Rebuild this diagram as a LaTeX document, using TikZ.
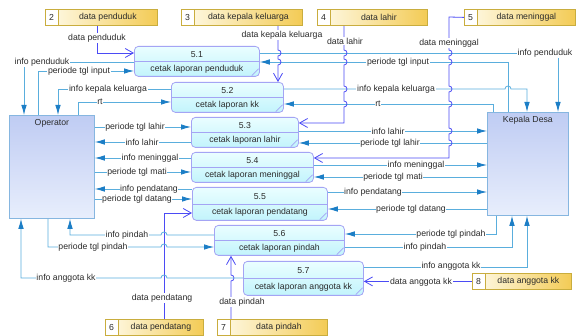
\documentclass[tikz,border=0pt]{standalone}
\usepackage{fontspec}
\setmainfont{Liberation Sans}
\usetikzlibrary{arrows.meta,calc}
\definecolor{flowc}{HTML}{5AAEDD}
\definecolor{arrc}{HTML}{1C7EC6}
\definecolor{dflowc}{HTML}{4B4BF5}
\definecolor{procb}{HTML}{A4A4F4}
\definecolor{procA}{HTML}{EAFEFF}
\definecolor{procB}{HTML}{C2F4FC}
\definecolor{storeb}{HTML}{C9AD3E}
\definecolor{storeA}{HTML}{FFFBEA}
\definecolor{storeB}{HTML}{F3CB55}
\definecolor{entb}{HTML}{86B6E0}
\definecolor{entA}{HTML}{BFCCF3}
\definecolor{entB}{HTML}{E8EEFC}
\definecolor{txtc}{HTML}{2B2B2B}
\newcommand\dproc[7]{%
  \node[procbox, anchor=north west, minimum width=#4pt, minimum height=#5pt] (#1) at (#2,#3) {};
  \draw[procdiv] (#1.west) -- (#1.east);
  \draw[procdiv] ([xshift=-8pt,yshift=1.2pt]#1.south east) -- ([xshift=-1.2pt,yshift=8pt]#1.south east);
  \node[inner sep=0pt] (#1n) at ($(#1.north)!0.27!(#1.south)$) {#6};
  \node[inner sep=0pt] (#1t) at ($(#1.north)!0.76!(#1.south)$) {#7};
}
\newcommand\dstore[6]{%
  \node[storebox, anchor=north west, minimum width=#4pt, minimum height=16pt] (#1) at (#2,#3) {};
  \draw[draw=storeb, line width=0.7pt, fill=white] (#1.north west) rectangle ([xshift=13pt]#1.south west);
  \node[inner sep=0pt] (#1n) at ([xshift=6.5pt]#1.west) {#5};
  \node[inner sep=0pt] (#1t) at ($([xshift=13pt]#1.west)!0.5!(#1.east)$) {#6};
}
\begin{document}
\begin{tikzpicture}[x=1pt,y=-1pt, font=\fontsize{8.7}{10}\selectfont, text=txtc,
  flow/.style={draw=flowc, line width=0.8pt, -{Latex[length=10pt,width=5.5pt,color=arrc]}},
  dflow/.style={draw=dflowc, line width=0.8pt, -{Straight Barb[length=8pt,width=9pt]}},
  lbl/.style={fill=white, inner sep=0.6pt},
  procbox/.style={draw=procb, line width=0.8pt, rounded corners=4pt, top color=procA, bottom color=procB, inner sep=0pt},
  procdiv/.style={draw=procb, line width=0.7pt},
  storebox/.style={draw=storeb, line width=0.8pt, left color=storeA, right color=storeB, inner sep=0pt},
  entbox/.style={draw=entb, line width=0.8pt, top color=entA, bottom color=entB, inner sep=0pt}]
\path[use as bounding box, fill=white] (0,0) rectangle (578,336);

% entities
\node[entbox, anchor=north west, minimum width=85pt, minimum height=103pt] (op) at (9,115) {};
\node[anchor=north, inner sep=0pt] (opt) at ([yshift=-4pt]op.north) {Operator};
\node[entbox, anchor=north west, minimum width=81pt, minimum height=103pt] (kd) at (487,112) {};
\node[anchor=north, inner sep=0pt] (kdt) at ([yshift=-4pt]kd.north) {Kepala Desa};

% data stores
\dstore{s2}{45}{9}{112}{2}{data penduduk}
\dstore{s3}{181}{9}{121}{3}{data kepala keluarga}
\dstore{s4}{317}{9}{110}{4}{data lahir}
\dstore{s5}{464}{9}{111}{5}{data meninggal}
\dstore{s6}{105}{319}{98}{6}{data pendatang}
\dstore{s7}{217}{319}{110}{7}{data pindah}
\dstore{s8}{472}{273}{99}{8}{data anggota kk}

% processes
\dproc{p51}{134}{46}{125}{30}{5.1}{cetak laporan penduduk}
\dproc{p52}{171}{82}{112}{30}{5.2}{cetak laporan kk}
\dproc{p53}{191}{117}{107}{30}{5.3}{cetak laporan lahir}
\dproc{p54}{191}{152}{122}{30}{5.4}{cetak laporan meninggal}
\dproc{p55}{192}{187}{135}{33}{5.5}{cetak laporan pendatang}
\dproc{p56}{214}{225}{130}{30}{5.6}{cetak laporan pindah}
\dproc{p57}{243}{261}{120}{34}{5.7}{cetak laporan anggota kk}

% 5.1
\draw[dflow] (s2.south -| 97,0) -- (97,53) -- (p51.west |- 0,53);
\draw[flow] (p51.west |- 0,62) -- (24,62) -- (op.north -| 24,0);
\draw[flow] (op.north -| 38,0) -- (38,71) -- (p51.west |- 0,71);
\draw[flow] (p51.east |- 0,53) -- (558,53) -- (kd.north -| 558,0);
\draw[flow] (kd.north -| 508,0) -- (508,62) -- (p51.east |- 0,62);
% 5.2
\draw[dflow] (s3.south -| 278,0) -- (278,50) arc[start angle=-90,end angle=90,radius=3]
  -- (278,59) arc[start angle=-90,end angle=90,radius=3] -- (p52.north -| 278,0);
\draw[flow] (p52.west |- 0,89) -- (58,89) -- (op.north -| 58,0);
\draw[flow] (op.north -| 78,0) -- (78,102) -- (p52.west |- 0,102);
\draw[flow] (p52.east |- 0,89) -- (505,89) arc[start angle=180,end angle=360,radius=3] -- (527,89) -- (kd.north -| 527,0);
\draw[flow] (kd.north -| 493,0) -- (493,104) -- (p52.east |- 0,104);
% 5.3
\draw[dflow] (s4.south -| 344,0) -- (344,50) arc[start angle=-90,end angle=90,radius=3]
  -- (344,59) arc[start angle=-90,end angle=90,radius=3]
  -- (344,86) arc[start angle=-90,end angle=90,radius=3]
  -- (344,101) arc[start angle=-90,end angle=90,radius=3]
  -- (344,123) -- (p53.east |- 0,123);
\draw[flow] (op.east |- 0,127) -- (p53.west |- 0,127);
\draw[flow] (p53.west |- 0,142) -- (op.east |- 0,142);
\draw[flow] (p53.east |- 0,131) -- (kd.west |- 0,131);
\draw[flow] (kd.west |- 0,143) -- (p53.east |- 0,143);
% 5.4
\draw[dflow] (s5.west) -- (449,17) -- (449,50) arc[start angle=-90,end angle=90,radius=3]
  -- (449,59) arc[start angle=-90,end angle=90,radius=3]
  -- (449,86) arc[start angle=-90,end angle=90,radius=3]
  -- (449,101) arc[start angle=-90,end angle=90,radius=3]
  -- (449,128) arc[start angle=-90,end angle=90,radius=3]
  -- (449,140) arc[start angle=-90,end angle=90,radius=3]
  -- (449,158) -- (p54.east |- 0,158);
\draw[flow] (p54.west |- 0,158) -- (op.east |- 0,158);
\draw[flow] (op.east |- 0,172) -- (p54.west |- 0,172);
\draw[flow] (p54.east |- 0,165) -- (kd.west |- 0,165);
\draw[flow] (kd.west |- 0,177) -- (p54.east |- 0,177);
% 5.5
\draw[flow] (p55.west |- 0,189) -- (op.east |- 0,189);
\draw[flow] (op.east |- 0,199) -- (p55.west |- 0,199);
\draw[flow] (p55.east |- 0,192) -- (kd.west |- 0,192);
\draw[flow] (kd.west |- 0,209) -- (p55.east |- 0,209);
\draw[dflow] (s6.north -| 164,0) -- (164,213) -- (p55.west |- 0,213);
% 5.6
\draw[flow] (p56.west |- 0,235) -- (167,235) arc[start angle=0,end angle=-180,radius=3] -- (70,235) -- (op.south -| 70,0);
\draw[flow] (op.south -| 48,0) -- (48,247) -- (161,247) arc[start angle=180,end angle=360,radius=3] -- (p56.west |- 0,247);
\draw[flow] (kd.south -| 496,0) -- (496,234) -- (p56.east |- 0,234);
\draw[flow] (p56.east |- 0,247) -- (512,247) -- (kd.south -| 512,0);
\draw[dflow] (s7.north -| 231,0) -- (231,281) arc[start angle=90,end angle=-90,radius=3] -- (p56.south -| 231,0);
% 5.7
\draw[flow] (p57.west |- 0,278) -- (167,278) arc[start angle=0,end angle=-180,radius=3] -- (21,278) -- (op.south -| 21,0);
\draw[flow] (p57.east |- 0,267) -- (527,267) -- (kd.south -| 527,0);
\draw[dflow] (s8.west) -- (p57.east |- s8.west);

% labels
\node[lbl] (l1) at (97,38) {data penduduk};
\node[lbl] (l2) at (42,62) {info penduduk};
\node[lbl] (l3) at (79,71) {periode tgl input};
\node[lbl] (l4) at (545,53) {info penduduk};
\node[lbl] (l5) at (398,62) {periode tgl input};
\node[lbl] (l6) at (282,35) {data kepala keluarga};
\node[lbl] (l7) at (108,89) {info kepala keluarga};
\node[lbl] (l8) at (100,102) {rt};
\node[lbl] (l9) at (396,89) {info kepala keluarga};
\node[lbl] (l10) at (378,104) {rt};
\node[lbl] (l11) at (345,41) {data lahir};
\node[lbl] (l12) at (449,43) {data meninggal};
\node[lbl] (l13) at (135,127) {periode tgl lahir};
\node[lbl] (l14) at (142,142) {info lahir};
\node[lbl] (l15) at (388,131) {info lahir};
\node[lbl] (l16) at (390,143) {periode tgl lahir};
\node[lbl] (l17) at (150,158) {info meninggal};
\node[lbl] (l18) at (137,172) {periode tgl mati};
\node[lbl] (l19) at (416,165) {info meninggal};
\node[lbl] (l20) at (393,177) {periode tgl mati};
\node[lbl] (l21) at (149,189) {info pendatang};
\node[lbl] (l22) at (137,199) {periode tgl datang};
\node[lbl] (l23) at (373,192) {info pendatang};
\node[lbl] (l24) at (411,209) {periode tgl datang};
\node[lbl] (l25) at (162,298) {data pendatang};
\node[lbl] (l26) at (127,235) {info pindah};
\node[lbl] (l27) at (93,247) {periode tgl pindah};
\node[lbl] (l28) at (451,234) {periode tgl pindah};
\node[lbl] (l29) at (425,247) {info pindah};
\node[lbl] (l30) at (242,302) {data pindah};
\node[lbl] (l31) at (66,278) {info anggota kk};
\node[lbl] (l32) at (451,266) {info anggota kk};
\node[lbl] (l33) at (421,282) {data anggota kk};
\end{tikzpicture}
\end{document}
